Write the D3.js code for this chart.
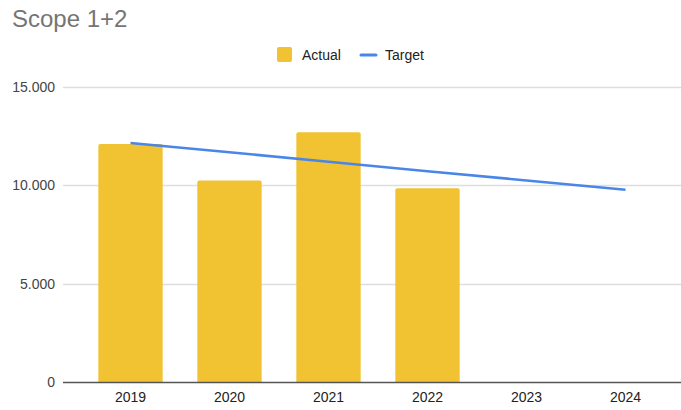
<!DOCTYPE html>
<html>
<head>
<meta charset="utf-8">
<script src="https://cdn.jsdelivr.net/npm/d3@7"></script>
<style>
  html, body { margin: 0; padding: 0; background: #fff; }
  svg { display: block; font-family: "Liberation Sans", Arial, sans-serif; }
</style>
</head>
<body>
<svg id="chart" width="681" height="410"></svg>
<script>
const title = "Scope 1+2";
const categories = ["2019", "2020", "2021", "2022", "2023", "2024"];
const actualValues = [12100, 10250, 12700, 9850, null, null];
const targetValues = [12150, 11680, 11200, 10720, 10250, 9780];
const yTicks = [0, 5000, 10000, 15000];
const yTickLabels = ["0", "5.000", "10.000", "15.000"];
const seriesNames = ["Actual", "Target"];

const colors = { actual: "#f1c232", target: "#4a86e8" };

const svg = d3.select("#chart");

const x = d3.scaleBand()
  .domain(categories)
  .range([81, 675])
  .paddingInner(0.35)
  .paddingOuter(0.175);

const y = d3.scaleLinear()
  .domain([0, 15000])
  .range([382, 87]);

// title
svg.append("text")
  .attr("x", 12)
  .attr("y", 27)
  .attr("font-size", 24)
  .attr("fill", "#757575")
  .text(title);

// gridlines
svg.append("g")
  .selectAll("line")
  .data(yTicks.filter(d => d > 0))
  .join("line")
  .attr("x1", 63)
  .attr("x2", 681)
  .attr("y1", d => Math.round(y(d)) + 0.5)
  .attr("y2", d => Math.round(y(d)) + 0.5)
  .attr("stroke", "#dedede")
  .attr("stroke-width", 1.5);

// y axis labels
const yAxis = d3.axisLeft(y)
  .tickValues(yTicks)
  .tickSize(0)
  .tickPadding(0)
  .tickFormat((d, i) => yTickLabels[i]);
const gy = svg.append("g")
  .attr("transform", "translate(55,0)")
  .call(yAxis);
gy.select(".domain").remove();
gy.selectAll("text")
  .attr("font-size", 14)
  .attr("font-family", "'Liberation Sans', Arial, sans-serif")
  .attr("fill", "#444");

// bars
const barData = categories.map((c, i) => ({ c, v: actualValues[i] })).filter(d => d.v != null);
svg.append("g")
  .selectAll("path")
  .data(barData)
  .join("path")
  .attr("fill", colors.actual)
  .attr("d", d => {
    const x0 = x(d.c), w = x.bandwidth(), y0 = y(d.v), y1 = y(0), r = 2;
    return `M${x0},${y1}V${y0 + r}Q${x0},${y0} ${x0 + r},${y0}H${x0 + w - r}Q${x0 + w},${y0} ${x0 + w},${y0 + r}V${y1}Z`;
  });

// baseline
svg.append("line")
  .attr("x1", 63)
  .attr("x2", 681)
  .attr("y1", y(0) + 0.5)
  .attr("y2", y(0) + 0.5)
  .attr("stroke", "#555")
  .attr("stroke-width", 1.5);

// x axis labels
const xAxis = d3.axisBottom(x).tickSize(0).tickPadding(0);
const gx = svg.append("g")
  .attr("transform", `translate(0,${y(0) + 10})`)
  .call(xAxis);
gx.select(".domain").remove();
gx.selectAll("text")
  .attr("font-size", 14)
  .attr("font-family", "'Liberation Sans', Arial, sans-serif")
  .attr("fill", "#222");

// target line
const line = d3.line()
  .x((d, i) => x(categories[i]) + x.bandwidth() / 2)
  .y(d => y(d));
svg.append("path")
  .datum(targetValues)
  .attr("d", line)
  .attr("fill", "none")
  .attr("stroke", colors.target)
  .attr("stroke-width", 2.5);

// legend
const lg = svg.append("g");
lg.append("rect")
  .attr("x", 277).attr("y", 47).attr("width", 15).attr("height", 15)
  .attr("rx", 2)
  .attr("fill", colors.actual);
lg.append("text")
  .attr("x", 302).attr("y", 60)
  .attr("font-size", 14).attr("fill", "#222")
  .text(seriesNames[0]);
lg.append("line")
  .attr("x1", 361).attr("x2", 376).attr("y1", 55).attr("y2", 55)
  .attr("stroke", colors.target).attr("stroke-width", 3).attr("stroke-linecap", "round");
lg.append("text")
  .attr("x", 385).attr("y", 60)
  .attr("font-size", 14).attr("fill", "#222")
  .text(seriesNames[1]);
</script>
</body>
</html>
